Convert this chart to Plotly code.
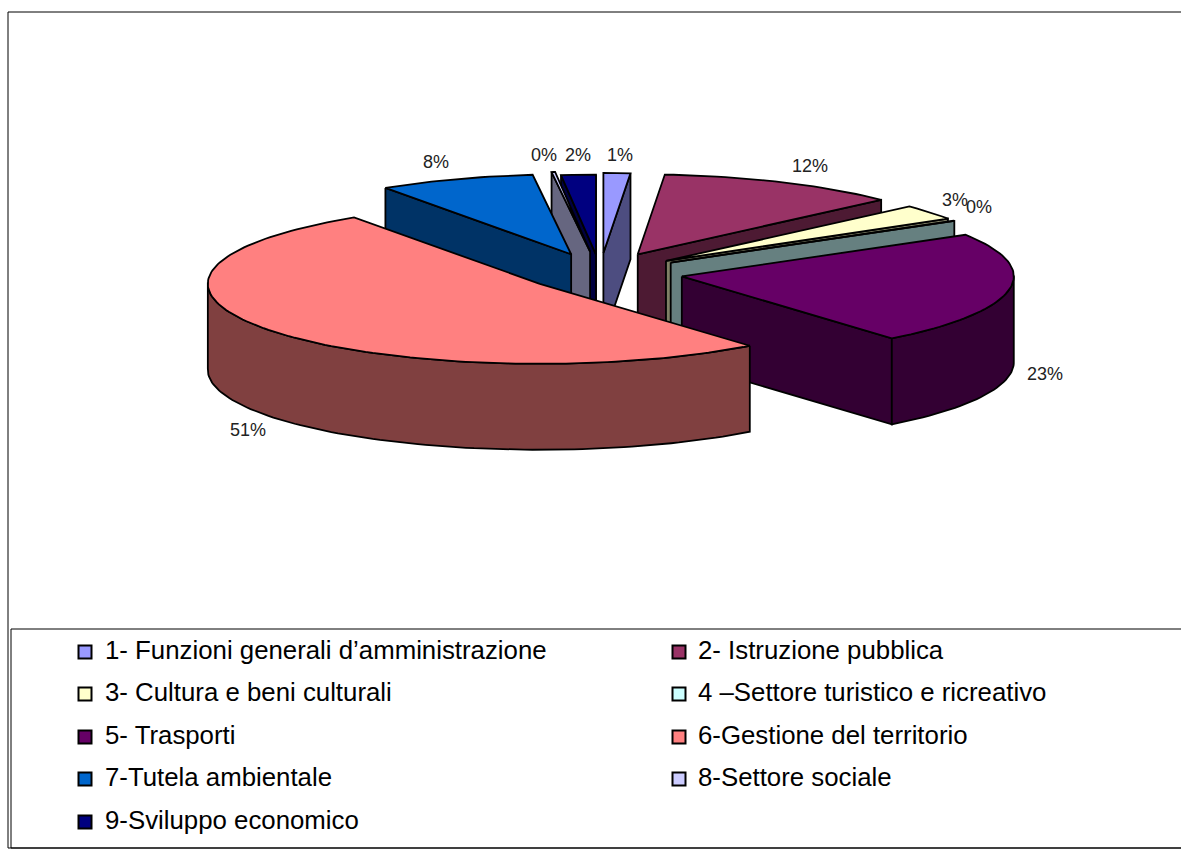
import numpy as np
import plotly.graph_objects as go

# ---- data ----
categories = ["1- Funzioni generali d’amministrazione", "2- Istruzione pubblica",
              "3- Cultura e beni culturali", "4 –Settore turistico e ricreativo",
              "5- Trasporti", "6-Gestione del territorio", "7-Tutela ambientale",
              "8-Settore sociale", "9-Sviluppo economico"]
values = [1.3, 11.8, 3.05, 0.15, 22.8, 51.45, 7.6, 0.17, 1.68]

# ---- styles ----
top_colors = ["#9999ff", "#993366", "#ffffcc", "#ccffff", "#660066",
              "#ff8080", "#0066cc", "#ccccff", "#000080"]
side_colors = ["#4d4d80", "#4d1a33", "#808066", "#668080", "#330033",
               "#804040", "#003366", "#666680", "#000040"]
pull = [0.25, 0.26, 0.25, 0.25, 0.25, 0.226, 0.25, 0.27, 0.23]
draw_order = [8, 0, 7, 1, 2, 3, 6, 4, 5]
label_xy = [(620, 155), (810, 166), (955, 200), (979, 207), (1045, 374),
            (248, 430), (436, 162), (544, 155), (578, 155)]
legend_xy = [(85, 652), (679, 652), (85, 694), (679, 694), (85, 737),
             (679, 737), (85, 779), (679, 779), (85, 822)]

CX, CY, RX, RY, DEPTH = 600.0, 273.0, 332.0, 80.0, 86.0
FONT = "Liberation Sans, Arial, sans-serif"

fig = go.Figure()


def face(xs, ys, color):
    xs, ys = list(xs), list(ys)
    fig.add_trace(go.Scatter(x=xs + xs[:1], y=ys + ys[:1], mode="lines", fill="toself",
                             fillcolor=color, line=dict(color="black", width=1.8),
                             hoverinfo="skip", showlegend=False))


edges = np.cumsum([0] + values) / sum(values) * 2 * np.pi
for i in draw_order:
    a0, a1 = edges[i], edges[i + 1]
    mid = (a0 + a1) / 2
    ax = CX + pull[i] * RX * np.sin(mid)
    ay = CY - pull[i] * RY * np.cos(mid)
    t = np.linspace(a0, a1, max(3, int((a1 - a0) * 40)))
    ox = ax + RX * np.sin(t)
    oy = ay - RY * np.cos(t)
    # radial side walls turned towards the viewer
    if np.cos(a0) > -0.01 and np.sin(a0) < 0:
        face([ox[0], ax, ax, ox[0]], [oy[0], ay, ay + DEPTH, oy[0] + DEPTH], side_colors[i])
    if np.sin(a1) > 0 and np.cos(a1) > -1:
        face([ax, ox[-1], ox[-1], ax], [ay, oy[-1], oy[-1] + DEPTH, ay + DEPTH], side_colors[i])
    # outer wall (front half of the rim)
    front = np.cos(t) <= 0.02
    if front.any():
        fx, fy = ox[front], oy[front]
        face(np.r_[fx, fx[::-1]], np.r_[fy, fy[::-1] + DEPTH], side_colors[i])
    # top
    face(np.r_[ax, ox], np.r_[ay, oy], top_colors[i])

annotations = []
for v, (x, y) in zip(values, label_xy):
    annotations.append(dict(x=x, y=y, text=f"{round(v)}%", showarrow=False,
                            font=dict(family=FONT, size=18, color="#222222")))

# legend
fig.add_trace(go.Scatter(x=[p[0] for p in legend_xy], y=[p[1] for p in legend_xy], mode="markers",
                         marker=dict(symbol="square", size=13, color=top_colors,
                                     line=dict(color="black", width=2)),
                         hoverinfo="skip", showlegend=False))
for name, (x, y) in zip(categories, legend_xy):
    annotations.append(dict(x=x + (18 if x < 300 else 17), y=y - 2, text=name, showarrow=False,
                            xanchor="left", font=dict(family=FONT, size=25.8, color="black")))

frame = dict(type="rect", line=dict(color="black", width=1))
fig.update_layout(
    width=1181, height=850, autosize=False,
    margin=dict(l=0, r=0, t=0, b=0),
    paper_bgcolor="white", plot_bgcolor="white",
    xaxis=dict(range=[0, 1181], visible=False, fixedrange=True),
    yaxis=dict(range=[850, 0], visible=False, fixedrange=True),
    annotations=annotations,
    shapes=[dict(frame, x0=8, y0=12, x1=1300, y1=848),
            dict(frame, x0=11, y0=629, x1=1300, y1=848)],
)
fig.write_html("out.html", config=dict(displayModeBar=False),
               post_script="document.body.style.margin='0';")
